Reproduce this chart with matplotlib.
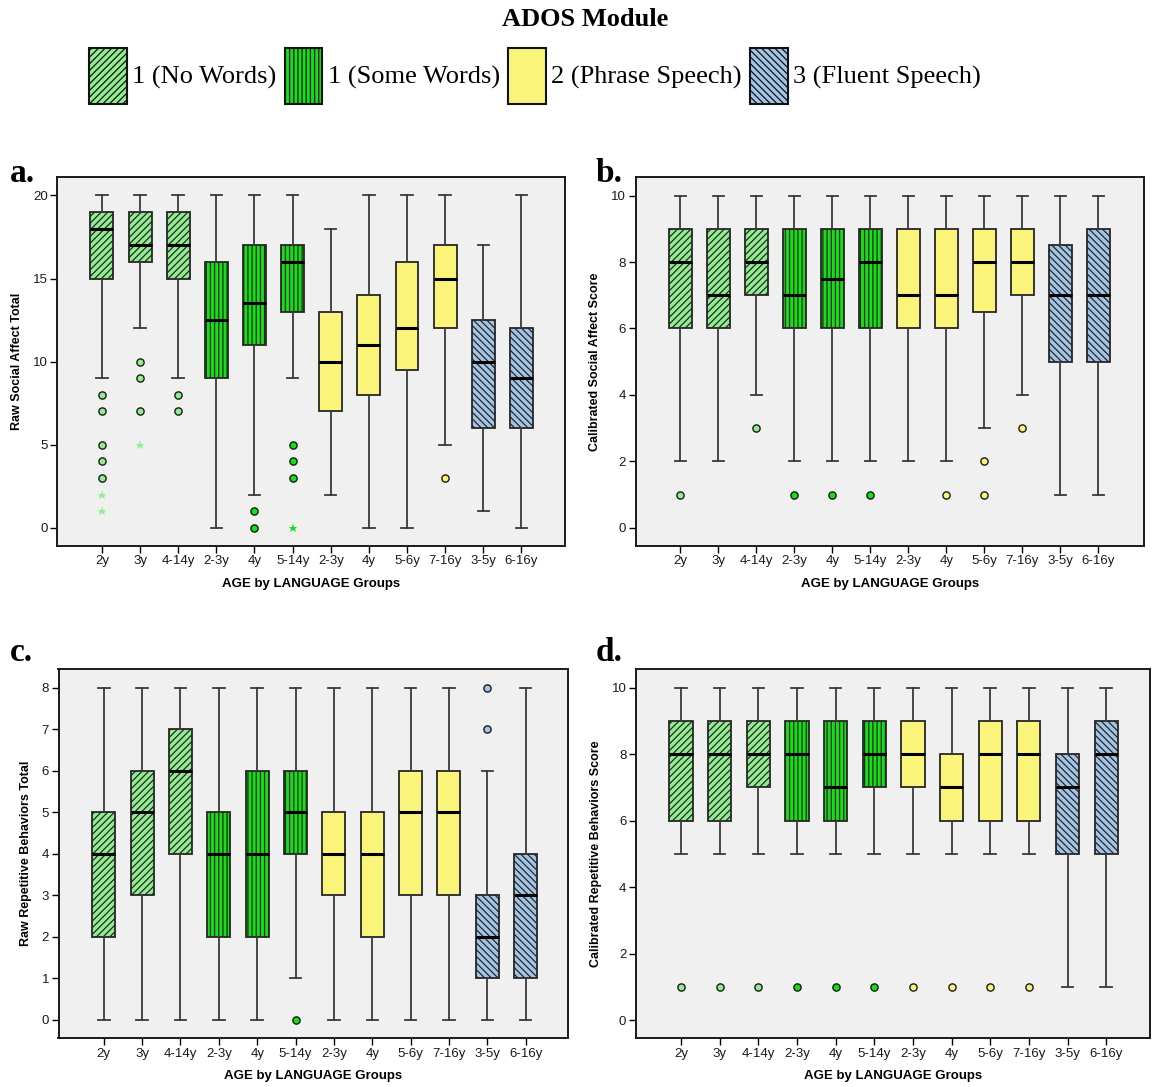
import matplotlib
matplotlib.use("Agg")
import matplotlib.pyplot as plt
from matplotlib.patches import Patch

plt.rcParams['font.family'] = ['Liberation Sans', 'DejaVu Sans']
plt.rcParams['hatch.linewidth'] = 0.9

# ---------------- data ----------------
categories = ['2y', '3y', '4-14y', '2-3y', '4y', '5-14y', '2-3y', '4y', '5-6y', '7-16y', '3-5y', '6-16y']
group_of = [0, 0, 0, 1, 1, 1, 2, 2, 2, 2, 3, 3]
group_names = ['1 (No Words)', '1 (Some Words)', '2 (Phrase Speech)', '3 (Fluent Speech)']

# a. Raw Social Affect Total
a_lo = [9, 12, 9, 0, 2, 9, 2, 0, 0, 5, 1, 0]
a_q1 = [15, 16, 15, 9, 11, 13, 7, 8, 9.5, 12, 6, 6]
a_med = [18, 17, 17, 12.5, 13.5, 16, 10, 11, 12, 15, 10, 9]
a_q3 = [19, 19, 19, 16, 17, 17, 13, 14, 16, 17, 12.5, 12]
a_hi = [20, 20, 20, 20, 20, 20, 18, 20, 20, 20, 17, 20]
a_out = [[8, 7, 5, 4, 3], [10, 9, 7], [8, 7], [], [1, 0], [5, 4, 3], [], [], [], [3], [], []]
a_ext = [[2, 1], [5], [], [], [], [0], [], [], [], [], [], []]

# b. Calibrated Social Affect Score
b_lo = [2, 2, 4, 2, 2, 2, 2, 2, 3, 4, 1, 1]
b_q1 = [6, 6, 7, 6, 6, 6, 6, 6, 6.5, 7, 5, 5]
b_med = [8, 7, 8, 7, 7.5, 8, 7, 7, 8, 8, 7, 7]
b_q3 = [9, 9, 9, 9, 9, 9, 9, 9, 9, 9, 8.5, 9]
b_hi = [10, 10, 10, 10, 10, 10, 10, 10, 10, 10, 10, 10]
b_out = [[1], [], [3], [1], [1], [1], [], [1], [2, 1], [3], [], []]
b_ext = [[], [], [], [], [], [], [], [], [], [], [], []]

# c. Raw Repetitive Behaviors Total
c_lo = [0, 0, 0, 0, 0, 1, 0, 0, 0, 0, 0, 0]
c_q1 = [2, 3, 4, 2, 2, 4, 3, 2, 3, 3, 1, 1]
c_med = [4, 5, 6, 4, 4, 5, 4, 4, 5, 5, 2, 3]
c_q3 = [5, 6, 7, 5, 6, 6, 5, 5, 6, 6, 3, 4]
c_hi = [8, 8, 8, 8, 8, 8, 8, 8, 8, 8, 6, 8]
c_out = [[], [], [], [], [], [0], [], [], [], [], [8, 7], []]
c_ext = [[], [], [], [], [], [], [], [], [], [], [], []]

# d. Calibrated Repetitive Behaviors Score
d_lo = [5, 5, 5, 5, 5, 5, 5, 5, 5, 5, 1, 1]
d_q1 = [6, 6, 7, 6, 6, 7, 7, 6, 6, 6, 5, 5]
d_med = [8, 8, 8, 8, 7, 8, 8, 7, 8, 8, 7, 8]
d_q3 = [9, 9, 9, 9, 9, 9, 9, 8, 9, 9, 8, 9]
d_hi = [10, 10, 10, 10, 10, 10, 10, 10, 10, 10, 10, 10]
d_out = [[1], [1], [1], [1], [1], [1], [1], [1], [1], [1], [], []]
d_ext = [[], [], [], [], [], [], [], [], [], [], [], []]

# ---------------- styles ----------------
face_colors = ['#90EE90', '#14E014', '#FAF57A', '#A2C4E6']
hatches = ['/////', '||||', '', '\\\\\\\\\\']
edge_col = '#262626'
W, H = 1152, 1087

fig = plt.figure(figsize=(W / 100, H / 100), dpi=100)


def ax_rect(l, r, t, b):
    return [l / W, 1 - b / H, (r - l) / W, (b - t) / H]


panels = [
    dict(rect=ax_rect(57.3, 565.3, 176.7, 546), xlim=(-0.17, 13.15), ylim=(-1.1, 21.13),
         yticks=[0, 5, 10, 15, 20], ylabel='Raw Social Affect Total', label='a.', lab=(10, 182),
         data=(a_lo, a_q1, a_med, a_q3, a_hi, a_out, a_ext)),
    dict(rect=ax_rect(635.5, 1143.7, 176.7, 546), xlim=(-0.18, 13.19), ylim=(-0.55, 10.57),
         yticks=[0, 2, 4, 6, 8, 10], ylabel='Calibrated Social Affect Score', label='b.', lab=(596, 182),
         data=(b_lo, b_q1, b_med, b_q3, b_hi, b_out, b_ext)),
    dict(rect=ax_rect(58.5, 567.9, 669, 1038.3), xlim=(-0.18, 13.1), ylim=(-0.45, 8.45),
         yticks=[0, 1, 2, 3, 4, 5, 6, 7, 8], ylabel='Raw Repetitive Behaviors Total', label='c.', lab=(10, 661),
         data=(c_lo, c_q1, c_med, c_q3, c_hi, c_out, c_ext)),
    dict(rect=ax_rect(635.8, 1149.5, 669, 1038.3), xlim=(-0.17, 13.12), ylim=(-0.54, 10.56),
         yticks=[0, 2, 4, 6, 8, 10], ylabel='Calibrated Repetitive Behaviors Score', label='d.', lab=(596, 661),
         data=(d_lo, d_q1, d_med, d_q3, d_hi, d_out, d_ext)),
]

positions = list(range(1, len(categories) + 1))

for p in panels:
    ax = fig.add_axes(p['rect'])
    ax.set_facecolor('#F0F0F0')
    lo, q1, med, q3, hi, out, ext = p['data']
    stats = []
    for i in range(len(categories)):
        stats.append(dict(whislo=lo[i], q1=q1[i], med=med[i], q3=q3[i], whishi=hi[i],
                          fliers=out[i], label=categories[i]))
    res = ax.bxp(stats, positions=positions, widths=0.6, capwidths=0.3, patch_artist=True,
                 showfliers=True,
                 boxprops=dict(linewidth=1.3, edgecolor=edge_col),
                 whiskerprops=dict(color='#3a3a3a', linewidth=1.3),
                 capprops=dict(color='#3a3a3a', linewidth=1.3),
                 medianprops=dict(color='black', linewidth=2.2),
                 flierprops=dict(marker='o', markersize=5.2, markeredgecolor='#1a1a1a',
                                 markeredgewidth=1.0, linestyle='none'))
    for i, box in enumerate(res['boxes']):
        g = group_of[i]
        box.set_facecolor(face_colors[g])
        box.set_edgecolor(edge_col)
        if hatches[g]:
            box.set_hatch(hatches[g])
    for i, fl in enumerate(res['fliers']):
        fl.set_markerfacecolor(face_colors[group_of[i]])
    for i, vals in enumerate(ext):
        if vals:
            ax.plot([positions[i]] * len(vals), vals, linestyle='none', marker='*',
                    markersize=6.5, color=face_colors[group_of[i]], markeredgewidth=0)
    ax.set_xlim(*p['xlim'])
    ax.set_ylim(*p['ylim'])
    ax.set_yticks(p['yticks'])
    ax.set_xticks(positions)
    ax.set_xticklabels(categories)
    ax.tick_params(axis='both', direction='out', length=4.8, width=1.0, colors='black',
                   labelsize=9.5, labelcolor='#1a1a1a', pad=2)
    for s in ax.spines.values():
        s.set_linewidth(1.4)
        s.set_color('#1a1a1a')
    ax.set_xlabel('AGE by LANGUAGE Groups', fontsize=9.5, fontweight='bold', labelpad=7.5)
    ax.set_ylabel(p['ylabel'], fontsize=9, fontweight='bold', labelpad=7)
    fig.text(p['lab'][0] / W, 1 - p['lab'][1] / H, p['label'], family='Liberation Serif',
             fontweight='bold', fontsize=24, va='baseline', ha='left')

# title and legend
fig.text(585 / W, 1 - 19 / H, 'ADOS Module', family='Liberation Serif', fontweight='bold',
         fontsize=19, ha='center', va='center')
handles = [Patch(facecolor=face_colors[g], edgecolor='#111111', hatch=hatches[g], linewidth=1.5)
           for g in range(4)]
fig.legend(handles, group_names, loc='center', bbox_to_anchor=(535 / W, 1 - 76 / H), ncol=4,
           frameon=False, prop={'family': 'Liberation Serif', 'size': 19},
           handlelength=1.42, handleheight=2.9, handletextpad=0.2, columnspacing=0.33,
           borderpad=0, borderaxespad=0)

fig.savefig('out.png', dpi=100)
